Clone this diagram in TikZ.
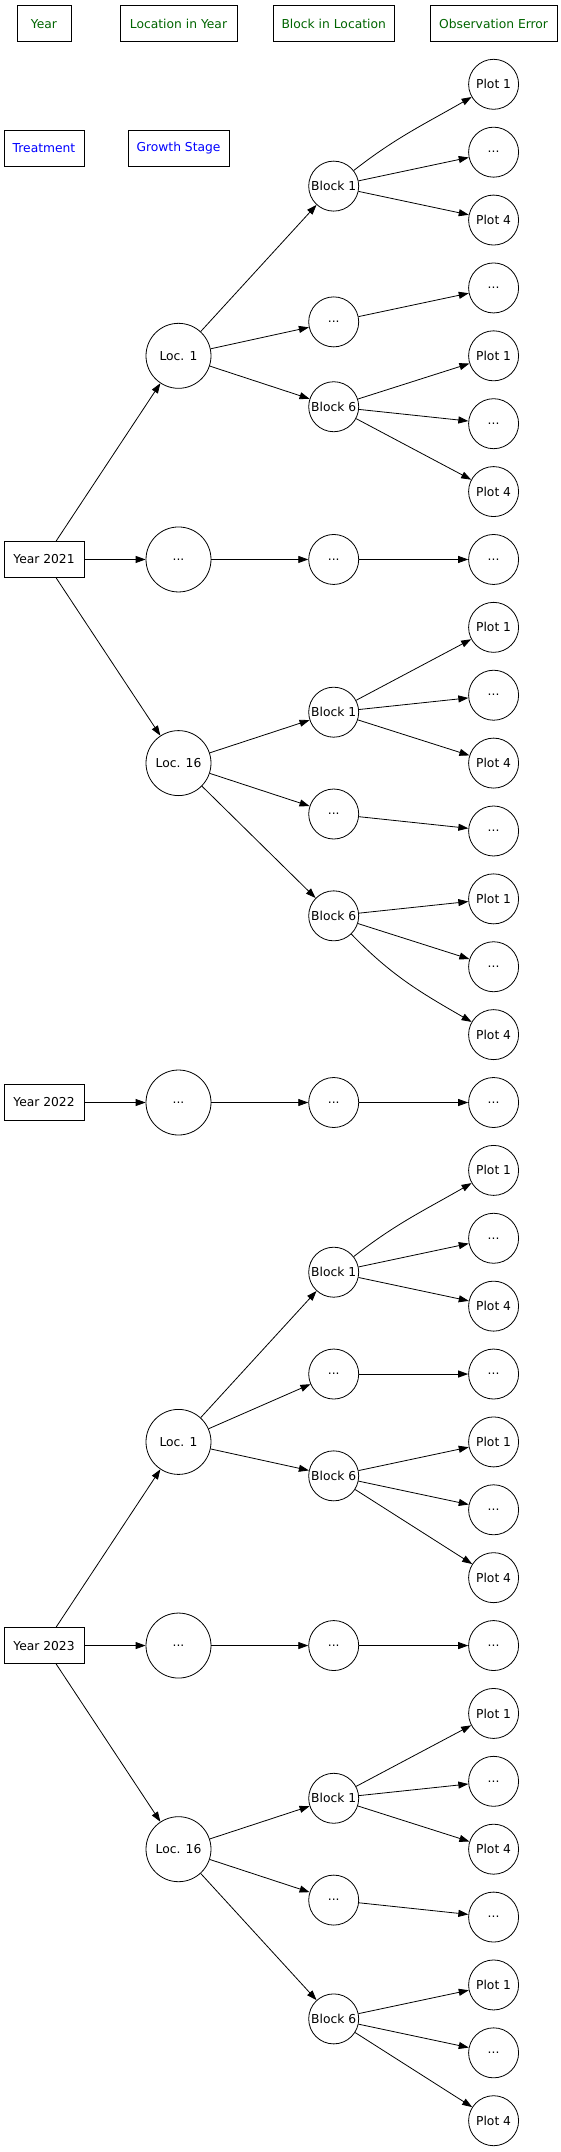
\documentclass[tikz,border=0pt]{standalone}
\usepackage{fontspec}
\setmainfont{DejaVu Sans}
\usetikzlibrary{arrows.meta}
\definecolor{lgreen}{RGB}{0,100,0}
\definecolor{lblue}{RGB}{0,0,255}
\newcommand\ky[1]{-(84.3+67.88*(#1))}
\newcommand\ddd{...}
\newcommand\pa{Plot 1}
\newcommand\pb{Plot 4}
\tikzset{
  base/.style={draw=black, line width=0.8pt, font=\fontsize{12.3}{14}\selectfont, inner sep=0pt},
  yrbox/.style={base, rectangle, minimum width=80pt, minimum height=36pt},
  legbox/.style={base, rectangle, minimum height=36pt},
  locnode/.style={base, circle, minimum size=65pt},
  smnode/.style={base, circle, minimum size=50pt},
  edge/.style={draw=black, line width=0.8pt, -{Triangle[length=10pt,width=7pt]}},
}
\begin{document}
\begin{tikzpicture}[x=1pt,y=1pt]
\useasboundingbox (0,0) rectangle (561,-2152);
% legend
\node[legbox, text=lgreen, minimum width=54pt] (lgyear) at (44,-23.7) {Year};
\node[legbox, text=lgreen, minimum width=117pt] (lgloc) at (178.5,-23.7) {Location in Year};
\node[legbox, text=lgreen, minimum width=121pt] (lgblock) at (333.7,-23.7) {Block in Location};
\node[legbox, text=lgreen, minimum width=127pt] (lgobs) at (493.6,-23.7) {Observation Error};
\node[legbox, text=lblue, minimum width=80pt] (lgtrt) at (44,-148) {Treatment};
\node[legbox, text=lblue, minimum width=101pt] (lggrowth) at (178.5,-148) {Growth Stage};
% years
\node[yrbox] (y21) at (44,{\ky{7}}) {Year 2021};
\node[yrbox] (y22) at (44,{\ky{15}}) {Year 2022};
\node[yrbox] (y23) at (44,{\ky{23}}) {Year 2023};
% locations
\node[locnode] (l21a) at (178.5,{\ky{4}}) {Loc. 1};
\node[locnode] (l21b) at (178.5,{\ky{7}}) {\ddd};
\node[locnode] (l21c) at (178.5,{\ky{10}}) {Loc. 16};
\node[locnode] (l22) at (178.5,{\ky{15}}) {\ddd};
\node[locnode] (l23a) at (178.5,{\ky{20}}) {Loc. 1};
\node[locnode] (l23b) at (178.5,{\ky{23}}) {\ddd};
\node[locnode] (l23c) at (178.5,{\ky{26}}) {Loc. 16};
% blocks
\node[smnode] (b21a) at (333.7,{\ky{1.5}}) {Block 1};
\node[smnode] (b21b) at (333.7,{\ky{3.5}}) {\ddd};
\node[smnode] (b21c) at (333.7,{\ky{4.75}}) {Block 6};
\node[smnode] (b21d) at (333.7,{\ky{7}}) {\ddd};
\node[smnode] (b21e) at (333.7,{\ky{9.25}}) {Block 1};
\node[smnode] (b21f) at (333.7,{\ky{10.75}}) {\ddd};
\node[smnode] (b21g) at (333.7,{\ky{12.25}}) {Block 6};
\node[smnode] (b22) at (333.7,{\ky{15}}) {\ddd};
\node[smnode] (b23a) at (333.7,{\ky{17.5}}) {Block 1};
\node[smnode] (b23b) at (333.7,{\ky{19}}) {\ddd};
\node[smnode] (b23c) at (333.7,{\ky{20.5}}) {Block 6};
\node[smnode] (b23d) at (333.7,{\ky{23}}) {\ddd};
\node[smnode] (b23e) at (333.7,{\ky{25.25}}) {Block 1};
\node[smnode] (b23f) at (333.7,{\ky{26.75}}) {\ddd};
\node[smnode] (b23g) at (333.7,{\ky{28.5}}) {Block 6};
% plots
\foreach \k/\t in {0/\pa,1/\ddd,2/\pb,3/\ddd,4/\pa,5/\ddd,6/\pb,7/\ddd,8/\pa,9/\ddd,10/\pb,11/\ddd,12/\pa,13/\ddd,14/\pb,15/\ddd,16/\pa,17/\ddd,18/\pb,19/\ddd,20/\pa,21/\ddd,22/\pb,23/\ddd,24/\pa,25/\ddd,26/\pb,27/\ddd,28/\pa,29/\ddd,30/\pb}
  \node[smnode] (p\k) at (493.6,{\ky{\k}}) {\t};
% edges: year 2021
\draw[edge] (y21) -- (l21a);
\draw[edge] (y21) -- (l21b);
\draw[edge] (y21) -- (l21c);
\draw[edge] (l21a) -- (b21a);
\draw[edge] (l21a) -- (b21b);
\draw[edge] (l21a) -- (b21c);
\draw[edge] (l21b) -- (b21d);
\draw[edge] (l21c) -- (b21e);
\draw[edge] (l21c) -- (b21f);
\draw[edge] (l21c) -- (b21g);
\draw[edge] (b21a) to[out=38,in=-150] (p0);
\draw[edge] (b21a) -- (p1);
\draw[edge] (b21a) -- (p2);
\draw[edge] (b21b) -- (p3);
\draw[edge] (b21c) -- (p4);
\draw[edge] (b21c) -- (p5);
\draw[edge] (b21c) -- (p6);
\draw[edge] (b21d) -- (p7);
\draw[edge] (b21e) -- (p8);
\draw[edge] (b21e) -- (p9);
\draw[edge] (b21e) -- (p10);
\draw[edge] (b21f) -- (p11);
\draw[edge] (b21g) -- (p12);
\draw[edge] (b21g) -- (p13);
\draw[edge] (b21g) to[out=-46,in=150] (p14);
% year 2022
\draw[edge] (y22) -- (l22);
\draw[edge] (l22) -- (b22);
\draw[edge] (b22) -- (p15);
% year 2023
\draw[edge] (y23) -- (l23a);
\draw[edge] (y23) -- (l23b);
\draw[edge] (y23) -- (l23c);
\draw[edge] (l23a) -- (b23a);
\draw[edge] (l23a) -- (b23b);
\draw[edge] (l23a) -- (b23c);
\draw[edge] (l23b) -- (b23d);
\draw[edge] (l23c) -- (b23e);
\draw[edge] (l23c) -- (b23f);
\draw[edge] (l23c) -- (b23g);
\draw[edge] (b23a) to[out=38,in=-150] (p16);
\draw[edge] (b23a) -- (p17);
\draw[edge] (b23a) -- (p18);
\draw[edge] (b23b) -- (p19);
\draw[edge] (b23c) -- (p20);
\draw[edge] (b23c) -- (p21);
\draw[edge] (b23c) -- (p22);
\draw[edge] (b23d) -- (p23);
\draw[edge] (b23e) -- (p24);
\draw[edge] (b23e) -- (p25);
\draw[edge] (b23e) -- (p26);
\draw[edge] (b23f) -- (p27);
\draw[edge] (b23g) -- (p28);
\draw[edge] (b23g) -- (p29);
\draw[edge] (b23g) -- (p30);
\end{tikzpicture}
\end{document}
